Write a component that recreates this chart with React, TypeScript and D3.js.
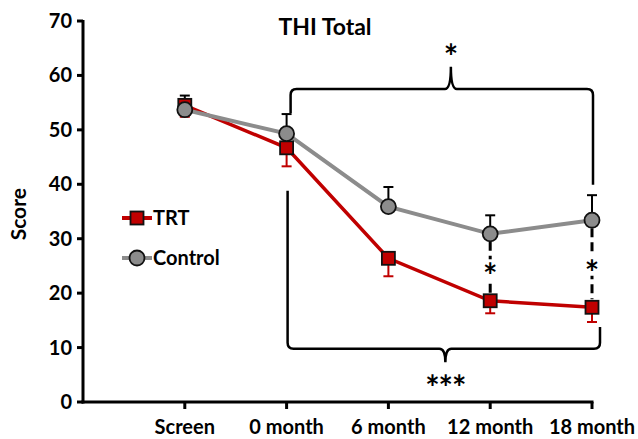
import React from "react";
import * as d3 from "d3";

const categories = ["Screen", "0 month", "6 month", "12 month", "18 month"];
const trtMean = [54.5, 46.7, 26.4, 18.6, 17.4];
const trtErr = [2.1, 3.4, 3.3, 2.3, 2.7];
const ctrlMean = [53.7, 49.3, 35.9, 30.9, 33.4];
const ctrlErr = [2.6, 3.6, 3.6, 3.4, 4.6];
const yTicks = [0, 10, 20, 30, 40, 50, 60, 70];

const W = 638;
const H = 439;
const FONT = "Lato, 'Open Sans', sans-serif";
const RED = "#c00000";
const GRAY = "#8c8c8c";

export default function App() {
  const x = d3.scalePoint<string>().domain(["", ...categories]).range([83, 592]);
  const y = d3.scaleLinear().domain([0, 70]).range([402, 21]);
  const line = d3
    .line<number>()
    .x((_, i) => x(categories[i]) as number)
    .y((d) => y(d));

  const X = (c: string) => x(c) as number;

  // top brace
  const tL = X("0 month") + 4;
  const tR = X("18 month") + 1;
  const tM = tL + (tR - tL) * 0.53;
  const tY = y(57.5);
  const topBrace = `M${tL},${y(53.1)} L${tL},${tY + 6} Q${tL},${tY} ${tL + 6},${tY} L${tM - 6},${tY} Q${tM},${tY} ${tM},${y(61.6)} Q${tM},${tY} ${tM + 6},${tY} L${tR - 6},${tY} Q${tR},${tY} ${tR},${tY + 6} L${tR},${y(39.9)}`;

  // bottom brace
  const bL = X("0 month") + 1;
  const bR = X("18 month") + 8;
  const bM = bL + (bR - bL) * 0.505;
  const bY = y(9.8);
  const botBrace = `M${bL},${y(38.8)} L${bL},${bY - 6} Q${bL},${bY} ${bL + 6},${bY} L${bM - 6},${bY} Q${bM},${bY} ${bM},${y(7.3)} Q${bM},${bY} ${bM + 6},${bY} L${bR - 6},${bY} Q${bR},${bY} ${bR},${bY - 6} L${bR},${y(13.8)}`;

  const sq = 13;
  const STAR = 34;
  const starOff = 19; // baseline below star centre
  return (
    <svg width={W} height={H} style={{ position: "absolute", left: 0, top: 0, background: "#fff" }} fontFamily={FONT}>
      {/* title */}
      <text x={325} y={35} textAnchor="middle" fontSize={23} fontWeight="bold">THI Total</text>

      {/* y axis */}
      <line x1={83} x2={83} y1={y(70) - 1} y2={y(0) + 1.5} stroke="#000" strokeWidth={3} />
      {yTicks.map((t) => (
        <g key={t}>
          <line x1={77} x2={83} y1={y(t)} y2={y(t)} stroke="#000" strokeWidth={3} />
          <text x={72} y={y(t)} dy="0.35em" textAnchor="end" fontSize={20} fontWeight="bold">{t}</text>
        </g>
      ))}
      <text transform={`translate(26,${y(34.5)}) rotate(-90)`} textAnchor="middle" fontSize={21} fontWeight="bold">Score</text>

      {/* x axis */}
      <line x1={81.5} x2={X("18 month") + 1.5} y1={y(0)} y2={y(0)} stroke="#000" strokeWidth={3} />
      {categories.map((c) => (
        <g key={c}>
          <line x1={X(c)} x2={X(c)} y1={y(0)} y2={y(0) + 7} stroke="#000" strokeWidth={3} />
          <text x={X(c)} y={434} textAnchor="middle" fontSize={20} fontWeight="bold">{c}</text>
        </g>
      ))}

      {/* braces */}
      <path d={topBrace} fill="none" stroke="#000" strokeWidth={2.5} />
      <path d={botBrace} fill="none" stroke="#000" strokeWidth={2.5} />
      <text x={tM} y={50 + starOff} textAnchor="middle" fontSize={STAR} fontWeight="bold">*</text>
      <text x={bM} y={381 + starOff} textAnchor="middle" fontSize={STAR} fontWeight="bold" letterSpacing={-1}>***</text>

      {/* dashed significance lines */}
      {["12 month", "18 month"].map((c) => {
        const i = categories.indexOf(c);
        const mid = (y(ctrlMean[i]) + y(trtMean[i])) / 2 + 2;
        return (
          <g key={c}>
            <line x1={X(c)} x2={X(c)} y1={y(ctrlMean[i]) + 8} y2={y(trtMean[i]) - 8} stroke="#000" strokeWidth={3} strokeDasharray="9,5" />
            <rect x={X(c) - 8} y={mid - 10} width={16} height={20} fill="#fff" />
            <text x={X(c)} y={mid + starOff} textAnchor="middle" fontSize={STAR} fontWeight="bold">*</text>
          </g>
        );
      })}

      {/* TRT error bars */}
      {categories.map((c, i) => (
        <g key={"te" + c} stroke={RED} strokeWidth={2}>
          <line x1={X(c)} x2={X(c)} y1={y(trtMean[i])} y2={y(trtMean[i] - trtErr[i])} />
          <line x1={X(c) - 5} x2={X(c) + 5} y1={y(trtMean[i] - trtErr[i])} y2={y(trtMean[i] - trtErr[i])} />
        </g>
      ))}
      {/* Control error bars */}
      {categories.map((c, i) => (
        <g key={"ce" + c} stroke="#000" strokeWidth={2}>
          <line x1={X(c)} x2={X(c)} y1={y(ctrlMean[i])} y2={y(ctrlMean[i] + ctrlErr[i])} />
          <line x1={X(c) - 5} x2={X(c) + 5} y1={y(ctrlMean[i] + ctrlErr[i])} y2={y(ctrlMean[i] + ctrlErr[i])} />
        </g>
      ))}

      {/* TRT line */}
      <path d={line(trtMean) as string} fill="none" stroke={RED} strokeWidth={3.5} />
      {/* Control line */}
      <path d={line(ctrlMean) as string} fill="none" stroke={GRAY} strokeWidth={4} />

      {categories.map((c, i) => (
        <rect key={"tm" + c} x={X(c) - sq / 2} y={y(trtMean[i]) - sq / 2} width={sq} height={sq} fill={RED} stroke="#111" strokeWidth={1.8} />
      ))}
      {categories.map((c, i) => (
        <circle key={"cm" + c} cx={X(c)} cy={y(ctrlMean[i])} r={7.5} fill={GRAY} stroke="#111" strokeWidth={1.8} />
      ))}

      {/* legend */}
      <g>
        <line x1={122} x2={152} y1={218} y2={218} stroke={RED} strokeWidth={4} />
        <rect x={137 - sq / 2} y={218 - sq / 2} width={sq} height={sq} fill={RED} stroke="#111" strokeWidth={1.8} />
        <text x={153} y={218} dy="0.35em" fontSize={20} fontWeight="bold">TRT</text>
        <line x1={122} x2={152} y1={258} y2={258} stroke={GRAY} strokeWidth={4} />
        <circle cx={137} cy={258} r={7.5} fill={GRAY} stroke="#111" strokeWidth={1.8} />
        <text x={153} y={258} dy="0.35em" fontSize={20} fontWeight="bold">Control</text>
      </g>
    </svg>
  );
}
